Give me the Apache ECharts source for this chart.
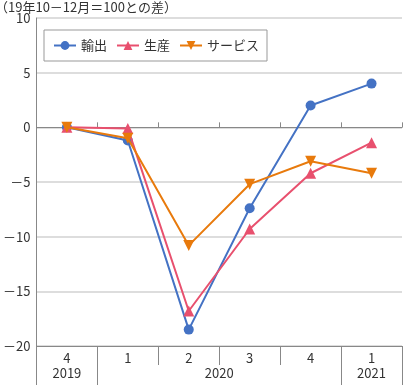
<!DOCTYPE html>
<html><head><meta charset="utf-8">
<script src="https://cdn.jsdelivr.net/npm/echarts@6/dist/echarts.min.js"></script>
<style>html,body{margin:0;padding:0;background:#fff}#c{width:405px;height:385px}</style>
</head><body><div id="c"></div>
<script>
const quarters = ['4','1','2','3','4','1'];
const yearSlots = ['', '2019', '', '', '', '', '2020', '', '', '', '', '2021', ''];
const exportsData = [0, -1.2, -18.5, -7.4, 2.0, 4.0];
const productionData = [0, -0.1, -16.8, -9.3, -4.2, -1.4];
const servicesData = [0, -1.0, -10.8, -5.2, -3.1, -4.2];
const seriesNames = ['輸出', '生産', 'サービス'];
const yTicks = {min: -20, max: 10, interval: 5};

const FONT = '"Noto Sans CJK JP", "Noto Sans", sans-serif';
const chart = echarts.init(document.getElementById('c'), null, {renderer: 'canvas'});
const fmt = v => v < 0 ? '－' + Math.abs(v) : String(v);
chart.setOption({
  animation: false,
  textStyle: {fontFamily: FONT},
  graphic: [{type: 'text', left: -5, top: 1, style: {text: '（19年10－12月＝100との差）', font: '13px ' + FONT, fill: '#333'}}],
  legend: {
    data: seriesNames, left: 44, top: 30,
    borderColor: '#999', borderWidth: 1, borderRadius: 0,
    padding: [9, 8, 9, 9], itemGap: 9, itemWidth: 22, itemHeight: 11,
    textStyle: {fontSize: 13, color: '#333', fontFamily: FONT}
  },
  grid: {left: 32, right: 1, top: 18, bottom: 39},
  xAxis: [
    {type: 'category', data: quarters, boundaryGap: true,
     axisLine: {onZero: true, lineStyle: {color: '#888', width: 1}},
     axisTick: {show: true, inside: true, length: 5, lineStyle: {color: '#888'}},
     axisLabel: {show: false}, splitLine: {show: false}},
    {type: 'category', data: quarters, boundaryGap: true, position: 'bottom',
     axisLine: {onZero: false, lineStyle: {color: '#888', width: 1}},
     axisTick: {show: true, length: 19, lineStyle: {color: '#888'}},
     axisLabel: {show: true, margin: 6, fontSize: 13, color: '#333', fontFamily: FONT}},
    {type: 'category', data: yearSlots, boundaryGap: false, position: 'bottom',
     axisLine: {show: false, onZero: false},
     axisTick: {show: true, length: 39, interval: (i) => i === 0 || i === 2 || i === 10 || i === 12, lineStyle: {color: '#888'}},
     axisLabel: {show: true, interval: 0, margin: 21, fontSize: 13, color: '#333', fontFamily: FONT}}
  ],
  yAxis: {
    type: 'value', min: yTicks.min, max: yTicks.max, interval: yTicks.interval,
    axisLine: {show: true, lineStyle: {color: '#888'}},
    axisTick: {show: false},
    axisLabel: {formatter: fmt, fontSize: 13, color: '#333', margin: 6, fontFamily: FONT},
    splitLine: {show: true, lineStyle: {color: '#ddd', width: 2}}
  },
  series: [
    {name: seriesNames[0], type: 'line', data: exportsData, symbol: 'circle', symbolSize: 10,
     itemStyle: {color: '#4472C4'}, lineStyle: {width: 2, color: '#4472C4'}, z: 3},
    {name: seriesNames[1], type: 'line', data: productionData, symbol: 'triangle', symbolSize: 11,
     itemStyle: {color: '#E8506E'}, lineStyle: {width: 2, color: '#E8506E'}, z: 4},
    {name: seriesNames[2], type: 'line', data: servicesData, symbol: 'triangle', symbolRotate: 180, symbolSize: 11,
     itemStyle: {color: '#E87A0C'}, lineStyle: {width: 2, color: '#E87A0C'}, z: 5}
  ]
});
</script></body></html>
